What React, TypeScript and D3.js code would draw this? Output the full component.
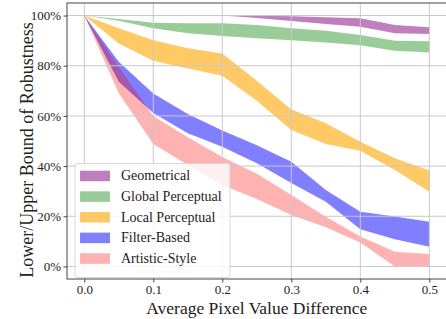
import * as d3 from 'd3';
import { useEffect, useRef } from 'react';

const xs = [0, 0.05, 0.1, 0.15, 0.2, 0.25, 0.3, 0.35, 0.4, 0.45, 0.5];

const geoUpper = [100, 100, 100, 100, 100, 100, 99.7, 99.3, 98.9, 96.2, 95.3];
const geoLower = [100, 100, 100, 100, 100, 99.0, 97.8, 96.6, 95.5, 92.9, 92.6];

const globalUpper = [100, 98.6, 97.1, 96.9, 96.9, 96.2, 94.9, 93.9, 92.2, 90.0, 89.8];
const globalLower = [100, 97.9, 94.9, 92.9, 91.8, 91.0, 90.2, 89.3, 88.2, 86.0, 85.3];

const localUpper = [100, 94.9, 90.2, 87.0, 84.9, 74.0, 62.6, 57.1, 49.7, 43.1, 38.2];
const localLower = [100, 88.9, 82.0, 78.9, 76.0, 66.0, 54.4, 48.8, 46.1, 38.4, 29.8];

const filterUpper = [100, 81.6, 68.9, 60.8, 54.2, 48.3, 41.7, 30.5, 21.8, 19.9, 17.8];
const filterLower = [100, 73.6, 61.2, 53.1, 47.7, 41.1, 33.3, 25.8, 14.8, 10.8, 7.9];

const artUpper = [100, 79.6, 60.0, 51.5, 43.6, 36.9, 28.5, 19.8, 11.9, 5.9, 5.0];
const artLower = [100, 69.0, 48.8, 40.4, 32.5, 26.9, 20.5, 15.6, 9.5, 0, 0];

const xTicks = [0, 0.1, 0.2, 0.3, 0.4, 0.5];
const yTicks = [0, 20, 40, 60, 80, 100];

const series = [
  { label: 'Geometrical', upper: geoUpper, lower: geoLower, color: '#800080', alpha: 0.5 },
  { label: 'Global Perceptual', upper: globalUpper, lower: globalLower, color: '#008000', alpha: 0.4 },
  { label: 'Local Perceptual', upper: localUpper, lower: localLower, color: '#ffa500', alpha: 0.6 },
  { label: 'Filter-Based', upper: filterUpper, lower: filterLower, color: '#0000ff', alpha: 0.5 },
  { label: 'Artistic-Style', upper: artUpper, lower: artLower, color: '#ff0000', alpha: 0.3 },
];

const FONT = '"Liberation Serif", "Times New Roman", serif';

function BandChart() {
  const svgRef = useRef<SVGSVGElement>(null);

  useEffect(() => {
    if (!svgRef.current) return;
    const svg = d3.select(svgRef.current);
    svg.selectAll('*').remove();

    const left = 67;
    const right = 446.6;
    const top = 3;
    const bottom = 279;

    const x = d3.scaleLinear().domain([-0.025, 0.525]).range([left, right]);
    const y = d3.scaleLinear().domain([-5, 105]).range([bottom, top]);

    // Bands
    for (const s of series) {
      const area = d3
        .area<number>()
        .x((_, i) => x(xs[i]))
        .y0((_, i) => y(s.lower[i]))
        .y1((_, i) => y(s.upper[i]));
      svg
        .append('path')
        .datum(s.upper)
        .attr('fill', s.color)
        .attr('fill-opacity', s.alpha)
        .attr('d', area);
    }

    // Grid (matplotlib draws it above the fills)
    const grid = svg.append('g');
    grid
      .selectAll('line.vx')
      .data(xTicks)
      .join('line')
      .attr('x1', (d) => x(d))
      .attr('x2', (d) => x(d))
      .attr('y1', top)
      .attr('y2', bottom)
      .attr('stroke', '#c8c8c8')
      .attr('stroke-width', 1);
    grid
      .selectAll('line.hy')
      .data(yTicks)
      .join('line')
      .attr('x1', left)
      .attr('x2', right)
      .attr('y1', (d) => y(d))
      .attr('y2', (d) => y(d))
      .attr('stroke', '#c8c8c8')
      .attr('stroke-width', 1);

    // Axes
    const xAxis = svg
      .append('g')
      .attr('transform', `translate(0,${bottom})`)
      .call(
        d3
          .axisBottom(x)
          .tickValues(xTicks)
          .tickSize(3.5)
          .tickPadding(2.5)
          .tickFormat((d) => d3.format('.1f')(d as number))
      );
    xAxis.selectAll('text').attr('font-family', FONT).attr('font-size', 13).attr('fill', '#222');

    const yAxis = svg
      .append('g')
      .attr('transform', `translate(${left},0)`)
      .call(
        d3
          .axisLeft(y)
          .tickValues(yTicks)
          .tickSize(3.5)
          .tickPadding(2.5)
          .tickFormat((d) => `${d}%`)
      );
    yAxis.selectAll('text').attr('font-family', FONT).attr('font-size', 13).attr('fill', '#222');
    svg.selectAll('.domain').remove();
    svg.selectAll('.tick line').attr('stroke', '#444');

    // Frame
    svg
      .append('rect')
      .attr('x', left)
      .attr('y', top)
      .attr('width', right - left)
      .attr('height', bottom - top)
      .attr('fill', 'none')
      .attr('stroke', '#444')
      .attr('stroke-width', 1);

    // Axis labels
    svg
      .append('text')
      .attr('x', (left + right) / 2)
      .attr('y', 314)
      .attr('text-anchor', 'middle')
      .attr('font-family', FONT)
      .attr('font-size', 17.5)
      .attr('fill', '#222')
      .text('Average Pixel Value Difference');
    svg
      .append('text')
      .attr('transform', `translate(32.5,150) rotate(-90)`)
      .attr('text-anchor', 'middle')
      .attr('font-family', FONT)
      .attr('font-size', 18)
      .attr('fill', '#222')
      .text('Lower/Upper Bound of Robustness');

    // Legend
    const lg = svg.append('g');
    lg.append('rect')
      .attr('x', 75)
      .attr('y', 163.5)
      .attr('width', 155)
      .attr('height', 114)
      .attr('rx', 3)
      .attr('fill', 'white')
      .attr('fill-opacity', 0.8)
      .attr('stroke', '#d8d8d8')
      .attr('stroke-width', 1);
    series.forEach((s, i) => {
      const cy = 175.7 + i * 20.65;
      lg.append('rect')
        .attr('x', 80)
        .attr('y', cy - 5)
        .attr('width', 30)
        .attr('height', 10.5)
        .attr('fill', s.color)
        .attr('fill-opacity', s.alpha);
      lg.append('text')
        .attr('x', 121)
        .attr('y', cy)
        .attr('dominant-baseline', 'central')
        .attr('font-family', FONT)
        .attr('font-size', 14)
        .attr('fill', '#222')
        .text(s.label);
    });
  }, []);

  return <svg ref={svgRef} width={446} height={319} style={{ display: 'block' }} />;
}

export default function App() {
  return (
    <div style={{ position: 'fixed', left: 0, top: 0, width: 446, height: 319, background: 'white' }}>
      <BandChart />
    </div>
  );
}
